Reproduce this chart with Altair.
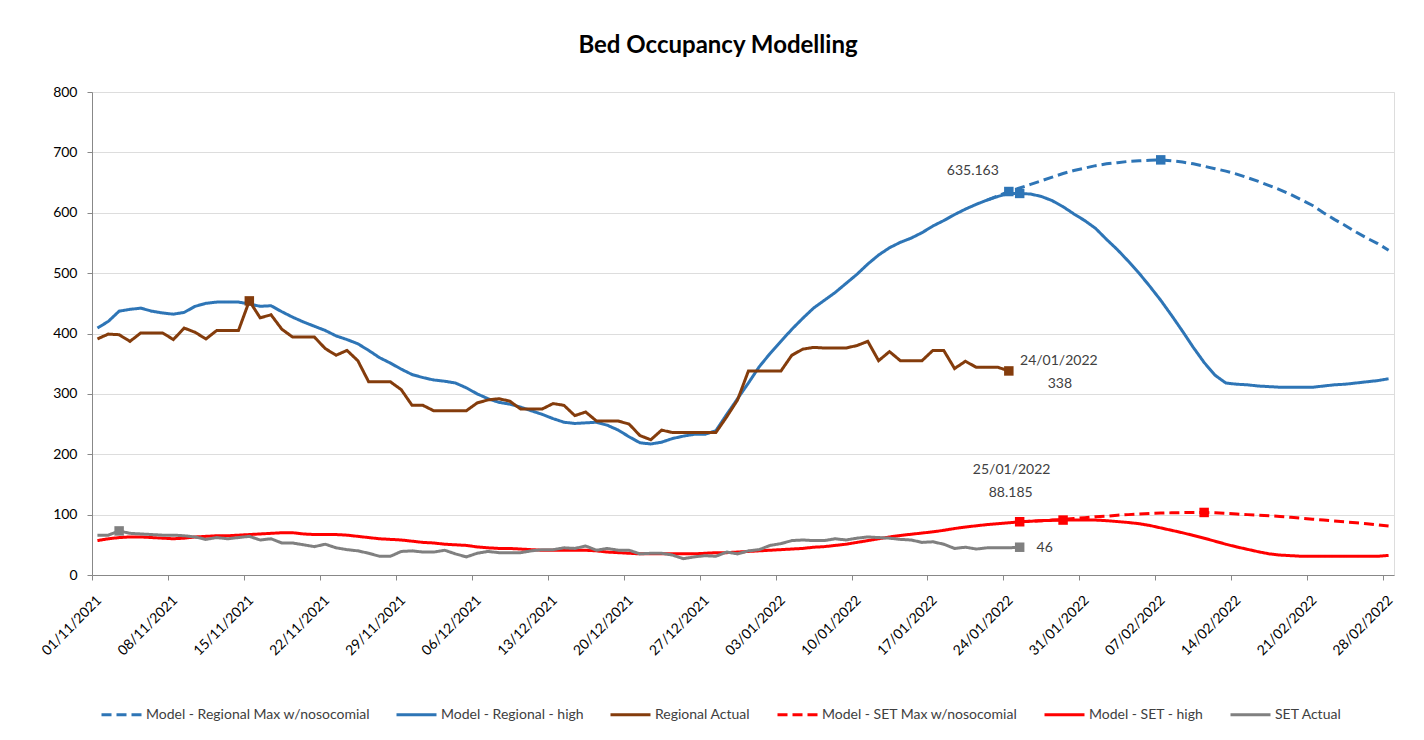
import altair as alt
import pandas as pd

# ---------------- data ----------------
series_names = [
    "Model - Regional Max w/nosocomial",
    "Model - Regional - high",
    "Regional Actual",
    "Model - SET Max w/nosocomial",
    "Model - SET - high",
    "SET Actual",
]
series_colors = ["#2E75B6", "#2E75B6", "#843C0C", "#FF0000", "#FF0000", "#808080"]
series_dashes = [[10, 5], [1, 0], [1, 0], [10, 5], [1, 0], [1, 0]]

first_day = "2021-11-01"          # day 0 of every series
axis_start = "2021-11-01"
axis_end = "2022-03-01"
tick_dates = [
    "2021-11-01", "2021-11-08", "2021-11-15", "2021-11-22", "2021-11-29",
    "2021-12-06", "2021-12-13", "2021-12-20", "2021-12-27", "2022-01-03",
    "2022-01-10", "2022-01-17", "2022-01-24", "2022-01-31", "2022-02-07",
    "2022-02-14", "2022-02-21", "2022-02-28",
]

# start day (offset from 01/11/2021) and daily values
regional_max_start = 82
regional_max = [
    621, 628, 635.163, 641, 647, 653, 659, 665, 670, 674,
    678, 681, 683, 685, 686, 687, 687.6, 686, 684, 681,
    677, 673, 669, 664, 658, 652, 645, 638, 630, 621,
    612, 600, 589, 579, 568, 558, 549, 538,
]

regional_high_start = 0
regional_high = [
    409, 420, 437, 440, 442, 437, 434, 432, 435, 445,
    450, 452, 452, 452, 449, 445, 446, 436, 427, 419,
    412, 405, 396, 390, 383, 372, 360, 351, 341, 332,
    327, 323, 321, 318, 310, 300, 292, 286, 283, 278,
    272, 266, 259, 253, 251, 252, 253, 248, 240, 229,
    219, 217, 220, 226, 230, 233, 233, 239, 266, 292,
    318, 345, 367, 387, 407, 425, 442, 455, 468, 483,
    498, 515, 530, 542, 551, 558, 567, 578, 587, 597,
    606, 614, 621, 627, 632, 632, 631, 627, 620, 610,
    598, 587, 574, 556, 539, 520, 500, 478, 455, 430,
    404, 377, 352, 331, 318, 316, 315, 313, 312, 311,
    311, 311, 311, 313, 315, 316, 318, 320, 322, 325,
]

regional_actual_start = 0
regional_actual = [
    391, 399, 398, 387, 401, 401, 401, 390, 409, 402,
    391, 405, 405, 405, 454, 426, 431, 407, 394, 394,
    394, 375, 364, 372, 355, 320, 320, 320, 307, 281,
    281, 272, 272, 272, 272, 285, 290, 292, 288, 275,
    275, 275, 284, 281, 264, 270, 255, 255, 255, 250,
    231, 224, 240, 236, 236, 236, 236, 236, 262, 290,
    338, 338, 338, 338, 364, 374, 377, 376, 376, 376,
    380, 387, 355, 370, 355, 355, 355, 372, 372, 342,
    354, 344, 344, 344, 338,
]

set_max_start = 85
set_max = [
    88.185, 89, 90, 91, 92, 93.5, 95, 96.5, 97.5, 99,
    100, 101, 102, 102.5, 103, 103.3, 103.5, 103.6, 103, 102,
    101, 100, 99, 98, 97, 95.5, 94, 92.5, 91, 89.5,
    88, 86.5, 85, 83, 81,
]

set_high_start = 0
set_high = [
    57, 60, 62, 63, 63, 62, 61, 60, 61, 63,
    64, 65, 65, 66, 67, 68, 69, 70, 70, 68,
    67, 67, 67, 66, 64, 62, 60, 59, 58, 56,
    54, 53, 51, 50, 49, 46.5, 45, 44, 44, 43,
    42, 41, 41, 41, 41, 41, 40, 38, 37, 36,
    35, 35, 35, 35, 35, 35, 36, 37, 37, 38,
    39, 40, 41, 42, 43, 44, 46, 47, 49, 51,
    54, 57, 60, 63, 65.5, 67.5, 69.5, 71.5, 74, 77,
    79.5, 81.5, 83.5, 85, 86.5, 88, 89, 90, 90.5, 91,
    91, 91, 91, 90, 88.5, 87, 85, 82, 78, 74,
    70, 65.5, 61, 56, 51, 46.5, 42.5, 38.5, 35, 33,
    32, 31, 31, 31, 31, 31, 31, 31, 31, 32.5,
]

set_actual_start = 0
set_actual = [
    66, 66, 73, 69, 68, 67, 66, 66, 65, 63,
    59, 62, 60, 62, 64, 58, 60, 53, 53, 50,
    47, 51, 45, 42, 40, 36, 31, 31, 39, 40,
    38, 38, 41, 35, 30, 36, 39, 37, 37, 37,
    40, 42, 42, 45, 44, 48, 41, 44, 41, 41,
    35, 36, 36, 33, 27, 30, 32, 31, 38, 35,
    40, 42, 49, 52, 57, 58, 57, 57, 60, 58,
    61, 63, 62, 61, 59, 58, 54, 55, 51, 44,
    46, 43, 45, 45, 45, 46,
]

# highlighted points: (series index, day offset, value)
marker_series = [0, 0, 1, 2, 2, 3, 3, 4, 5, 5]
marker_days = [84, 98, 85, 14, 84, 85, 102, 89, 2, 85]
marker_values = [635.163, 687.6, 632, 454, 338, 88.185, 103.6, 91, 73, 46]

# data labels
label_texts = ["635.163", "24/01/2022", "338", "25/01/2022", "88.185", "46"]
label_days = [84, 84, 84, 85, 85, 85]
label_values = [635.163, 338, 338, 88.185, 88.185, 46]

# ---------------- build tables ----------------
base = pd.Timestamp(first_day)


def day_to_iso(d):
    return (base + pd.Timedelta(days=d, hours=12)).strftime("%Y-%m-%dT%H:%M:%SZ")


def ms(s):
    return int(pd.Timestamp(s, tz="UTC").value // 10**6)


series_data = [
    (regional_max_start, regional_max),
    (regional_high_start, regional_high),
    (regional_actual_start, regional_actual),
    (set_max_start, set_max),
    (set_high_start, set_high),
    (set_actual_start, set_actual),
]
rows = []
for idx, (st, vals) in enumerate(series_data):
    for i, v in enumerate(vals):
        rows.append({"series": series_names[idx], "order": idx,
                     "date": day_to_iso(st + i), "value": v})
lines_df = pd.DataFrame(rows)

markers_df = pd.DataFrame({
    "date": [day_to_iso(d) for d in marker_days],
    "value": marker_values,
    "hex": [series_colors[i] for i in marker_series],
})

labels_df = pd.DataFrame({
    "date": [day_to_iso(d) for d in label_days],
    "value": label_values,
    "text": label_texts,
})

# ---------------- chart ----------------
FONT = "Lato"

x_enc = alt.X(
    "date:T",
    scale=alt.Scale(type="utc", domain=[ms(axis_start), ms(axis_end)]),
    axis=alt.Axis(
        values=[ms(t) for t in tick_dates],
        labelExpr="utcFormat(datum.value, '%d/%m/%Y')",
        title=None,
        grid=False,
        tickSize=5,
        labelAngle=-45,
        labelAlign="right",
        labelBaseline="middle",
        labelOffset=7,
        labelPadding=18,
        labelFont=FONT,
        labelFontSize=14,
        labelOverlap=False,
        labelBound=False,
        labelFlush=False,
    ),
)
y_enc = alt.Y(
    "value:Q",
    scale=alt.Scale(domain=[0, 800], nice=False),
    axis=alt.Axis(
        values=list(range(0, 900, 100)),
        title=None,
        grid=True,
        tickSize=5,
        labelPadding=10,
        labelFont=FONT,
        labelFontSize=14,
    ),
)

legend = alt.Legend(
    title=None,
    orient="none",
    legendX=8,
    legendY=601,
    direction="horizontal",
    symbolType="stroke",
    symbolStrokeWidth=3,
    symbolSize=1600,
    labelFont=FONT,
    labelFontSize=14,
    labelColor="#404040",
    labelLimit=400,
    labelOffset=3,
    columnPadding=20,
)

lines = alt.Chart(lines_df).mark_line(strokeWidth=3).encode(
    x=x_enc,
    y=y_enc,
    color=alt.Color("series:N",
                    scale=alt.Scale(domain=series_names, range=series_colors),
                    legend=legend),
    strokeDash=alt.StrokeDash("series:N",
                              scale=alt.Scale(domain=series_names, range=series_dashes),
                              legend=legend),
    detail="series:N",
)

markers = alt.Chart(markers_df).mark_point(shape="square", filled=True, size=90, opacity=1).encode(
    x="date:T",
    y="value:Q",
    color=alt.Color("hex:N", scale=None),
)


def text_layer(i, dx, dy):
    return alt.Chart(labels_df.iloc[[i]]).mark_text(
        font=FONT, fontSize=14, color="#404040", dx=dx, dy=dy,
        align="center", baseline="middle",
    ).encode(x="date:T", y="value:Q", text="text:N")


texts = [
    text_layer(0, -36, -21),
    text_layer(1, 50, -10),
    text_layer(2, 51, 13),
    text_layer(3, -8, -52),
    text_layer(4, -9, -29),
    text_layer(5, 25, 1),
]

chart = alt.layer(lines, markers, *texts).properties(
    width=1302,
    height=483,
    autosize=alt.AutoSizeParams(type="none"),
    padding={"left": 84, "top": 84, "right": 20, "bottom": 150},
    title=alt.TitleParams(
        "Bed Occupancy Modelling",
        font=FONT,
        fontSize=24,
        fontWeight="bold",
        color="#000000",
        anchor="middle",
        dx=-25,
        offset=8,
        baseline="alphabetic",
    ),
).configure_axis(
    labelFont=FONT,
    labelFontSize=14,
    labelColor="#595959",
    domainColor="#bfbfbf",
    tickColor="#bfbfbf",
    gridColor="#a6a6a6",
    gridWidth=1,
).configure_view(stroke=None).configure(background="white")

chart.save("out.html", embed_options={"renderer": "svg", "actions": False})
